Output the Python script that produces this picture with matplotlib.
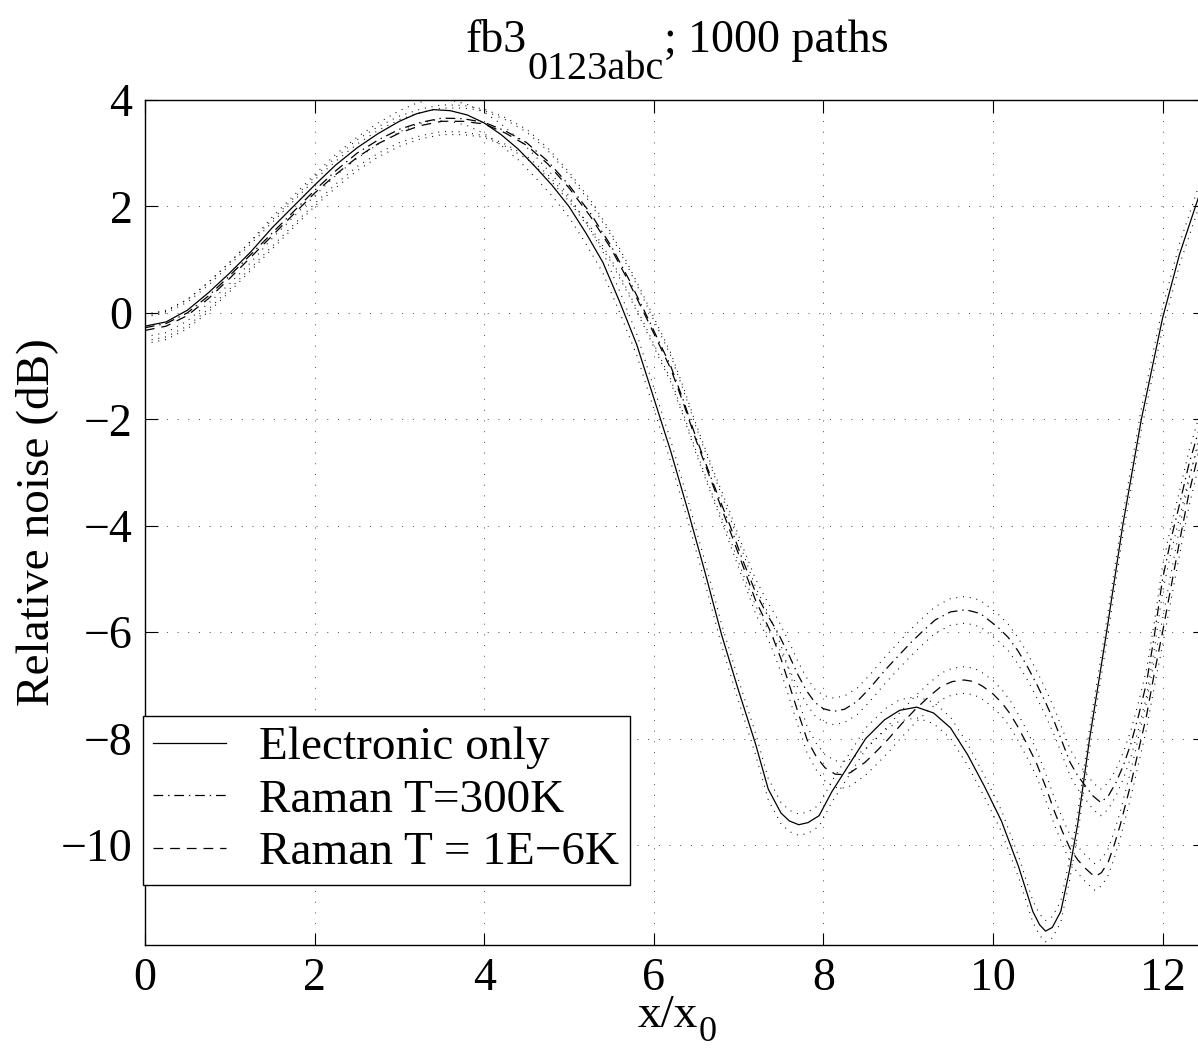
import matplotlib
matplotlib.use("Agg")
import numpy as np
import matplotlib.pyplot as plt

plt.rcParams['font.family'] = ['Liberation Serif', 'DejaVu Serif']
plt.rcParams['mathtext.fontset'] = 'custom'
plt.rcParams['mathtext.rm'] = 'Liberation Serif'
plt.rcParams['lines.scale_dashes'] = False

# electronic only (solid)
x_elec = [0, 0.25, 0.5, 0.75, 1.0, 1.25, 1.5, 1.75, 2.0, 2.25, 2.5, 2.75, 3.0,
          3.2, 3.4, 3.6, 3.8, 4.0, 4.2, 4.4, 4.6, 4.8, 5.0, 5.2, 5.4, 5.6, 5.8,
          6.0, 6.2, 6.4, 6.6, 6.8, 7.0, 7.2, 7.35, 7.5, 7.6, 7.71, 7.82, 7.95,
          8.1, 8.3, 8.5, 8.72, 8.9, 9.1, 9.3, 9.5, 9.7, 9.9, 10.1, 10.3, 10.47,
          10.55, 10.62, 10.7, 10.8, 10.9, 11.0, 11.14, 11.34, 11.53, 11.75,
          12.0, 12.2, 12.43]
y_elec = [-0.25, -0.17, 0.05, 0.38, 0.75, 1.15, 1.6, 2.0, 2.4, 2.78, 3.1, 3.37,
          3.6, 3.74, 3.82, 3.8, 3.72, 3.57, 3.35, 3.08, 2.75, 2.4, 2.0, 1.5,
          0.95, 0.2, -0.6, -1.6, -2.6, -3.7, -4.85, -6.05, -7.1, -8.1, -8.95,
          -9.4, -9.55, -9.62, -9.58, -9.45, -9.0, -8.5, -8.0, -7.65, -7.47,
          -7.41, -7.52, -7.8, -8.3, -8.9, -9.55, -10.4, -11.25, -11.5, -11.62,
          -11.55, -11.25, -10.5, -9.6, -8.0, -6.0, -4.0, -2.0, -0.1, 1.1, 2.2]

# Raman T=300K (dash-dot)
x_r300 = [0, 0.25, 0.5, 0.75, 1.0, 1.25, 1.5, 1.75, 2.0, 2.25, 2.5, 2.75, 3.0,
          3.25, 3.5, 3.75, 4.0, 4.25, 4.5, 4.75, 5.0, 5.25, 5.5, 5.7, 5.9,
          6.05, 6.2, 6.35, 6.5, 6.7, 6.9, 7.05, 7.2, 7.33, 7.46, 7.6, 7.7, 7.8,
          7.9, 8.0, 8.12, 8.25, 8.4, 8.55, 8.73, 8.9, 9.03, 9.18, 9.32, 9.5,
          9.68, 9.85, 10.06, 10.18, 10.29, 10.4, 10.51, 10.62, 10.73, 10.82,
          10.91, 11.0, 11.09, 11.18, 11.27, 11.36, 11.45, 11.54, 11.63, 11.72,
          11.81, 11.9, 12.0, 12.1, 12.2, 12.31, 12.43]
y_r300 = [-0.28, -0.2, 0.0, 0.32, 0.7, 1.1, 1.5, 1.9, 2.3, 2.67, 3.0, 3.25,
          3.45, 3.58, 3.66, 3.65, 3.58, 3.42, 3.2, 2.85, 2.4, 1.88, 1.25, 0.65,
          0.0, -0.5, -1.0, -1.65, -2.35, -3.2, -4.0, -4.65, -5.25, -5.65, -6.0,
          -6.45, -6.8, -7.1, -7.32, -7.44, -7.49, -7.45, -7.3, -7.05, -6.71,
          -6.42, -6.2, -5.97, -5.77, -5.62, -5.58, -5.65, -5.91, -6.1, -6.34,
          -6.63, -6.96, -7.32, -7.71, -8.08, -8.45, -8.7, -8.89, -9.08, -9.2,
          -9.08, -8.83, -8.5, -8.08, -7.55, -6.96, -6.1, -5.0, -4.25, -3.6,
          -2.85, -2.2]

# Raman T = 1E-6K (dashed)
x_r1e6 = [0, 0.25, 0.5, 0.75, 1.0, 1.25, 1.5, 1.75, 2.0, 2.25, 2.5, 2.75, 3.0,
          3.25, 3.5, 3.75, 4.0, 4.25, 4.5, 4.75, 5.0, 5.25, 5.5, 5.7, 5.9,
          6.05, 6.2, 6.35, 6.5, 6.7, 6.9, 7.05, 7.2, 7.38, 7.5, 7.6, 7.7, 7.81,
          7.92, 8.02, 8.14, 8.25, 8.32, 8.49, 8.62, 8.76, 8.92, 9.08, 9.24,
          9.39, 9.52, 9.66, 9.78, 9.88, 10.0, 10.11, 10.2, 10.29, 10.4, 10.51,
          10.62, 10.73, 10.82, 10.91, 11.0, 11.09, 11.2, 11.28, 11.36, 11.43,
          11.5, 11.63, 11.72, 11.81, 11.9, 12.0, 12.1, 12.2, 12.31, 12.43]
y_r1e6 = [-0.33, -0.25, -0.05, 0.27, 0.65, 1.05, 1.45, 1.85, 2.25, 2.6, 2.92,
          3.18, 3.38, 3.52, 3.6, 3.6, 3.55, 3.38, 3.15, 2.8, 2.35, 1.82, 1.2,
          0.6, -0.05, -0.55, -1.05, -1.7, -2.4, -3.25, -4.1, -4.75, -5.4, -6.0,
          -6.5, -7.0, -7.5, -8.03, -8.35, -8.55, -8.67, -8.68, -8.64, -8.45,
          -8.25, -8.02, -7.73, -7.46, -7.22, -7.02, -6.93, -6.9, -6.93, -7.02,
          -7.16, -7.34, -7.53, -7.77, -8.1, -8.45, -8.9, -9.39, -9.75, -10.07,
          -10.28, -10.44, -10.6, -10.52, -10.32, -10.0, -9.63, -8.83, -8.2,
          -7.58, -6.8, -6.0, -5.15, -4.3, -3.4, -2.6]

# half width of the dotted spread around each curve (dB)
band_elec = 0.2
band_r300 = 0.25
band_r1e6 = 0.25

labels = ['Electronic only', 'Raman T=300K', 'Raman T = 1E\u22126K']

fig = plt.figure(figsize=(11.98, 10.53), dpi=100)
ax = fig.add_axes([0.121, 0.1026, 0.8848, 0.8024])

dots = (0, (0.7, 4.2))
series = [(x_elec, y_elec, band_elec, '-'),
          (x_r300, y_r300, band_r300, (0, (7, 3.5, 1, 3.5))),
          (x_r1e6, y_r1e6, band_r1e6, (0, (7, 5)))]

lines = []
for (xs, ys, b, ls), lab in zip(series, labels):
    xs = np.array(xs)
    ys = np.array(ys)
    l, = ax.plot(xs, ys, color='k', lw=0.9, linestyle=ls, label=lab)
    lines.append(l)
    ax.plot(xs, ys + b, color='k', lw=0.8, linestyle=dots)
    ax.plot(xs, ys - b, color='k', lw=0.8, linestyle=dots)

ax.set_xlim(0, 12.5)
ax.set_ylim(-11.88, 4)
ax.set_xticks([0, 2, 4, 6, 8, 10, 12])
ax.set_yticks([-10, -8, -6, -4, -2, 0, 2, 4])
ax.grid(True, color='k', lw=0.5, linestyle=(0, (0.7, 7)))
ax.tick_params(direction='in', top=True, right=True, length=9, width=0.8,
               labelsize=33, pad=9)
for s in ax.spines.values():
    s.set_linewidth(1.0)

# title: fb3 with a large subscript, then "; 1000 paths"
t1 = fig.text(466 / 1198, 1 - 52 / 1053, 'fb3', fontsize=33,
              ha='left', va='baseline')
t2 = ax.annotate('0123abc', xy=(1, 0), xycoords=t1, xytext=(0, -12),
                 textcoords='offset points', fontsize=29,
                 ha='left', va='baseline')
t3 = ax.annotate('; 1000 paths', xy=(1, 0), xycoords=(t2, t1),
                 fontsize=33, ha='left', va='bottom')

# x label: x/x with subscript 0
xl = fig.text(638 / 1198, 1 - 1027 / 1053, 'x/x', fontsize=34,
              ha='left', va='baseline')
ax.annotate('0', xy=(1, 0), xycoords=xl, xytext=(0, -3),
            textcoords='offset points', fontsize=26, ha='left', va='baseline')

ax.set_ylabel('Relative noise (dB)', fontsize=34, labelpad=2)

leg = ax.legend(handles=lines, loc='upper left', bbox_to_anchor=(-0.002, 0.271),
                borderaxespad=0, fontsize=34, frameon=True, fancybox=False,
                edgecolor='k', framealpha=1, handlelength=1.55,
                handletextpad=0.7, labelspacing=0.2, borderpad=0.22)
leg.get_frame().set_linewidth(1.0)

fig.savefig('out.png', dpi=100)
